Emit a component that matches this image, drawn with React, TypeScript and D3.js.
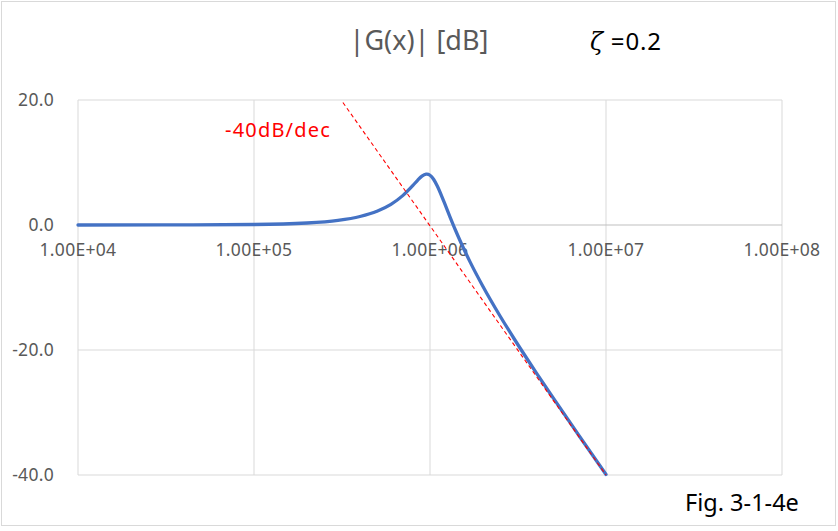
import React from "react";
import * as d3 from "d3";

const freqs = [1e4, 3e4, 1e5, 2e5, 3e5, 4e5, 5e5, 6e5, 7e5, 8e5, 8.5e5, 9e5, 9.5e5, 9.6e5, 1e6, 1.05e6, 1.1e6, 1.2e6, 1.3e6, 1.4e6, 1.5e6, 1.7e6, 2e6, 2.5e6, 3e6, 4e6, 5e6, 7e6, 1e7];
const gainDb = [0.0, 0.01, 0.08, 0.32, 0.74, 1.36, 2.2, 3.3, 4.7, 6.34, 7.15, 7.81, 8.13, 8.14, 7.96, 7.28, 6.24, 3.73, 1.27, -0.92, -2.84, -6.06, -9.84, -14.56, -18.16, -23.57, -27.63, -33.64, -39.92];
const asymFreqs = [3.2e5, 1e7];
const asymDb = [19.6, -40];
const xTicks = [1e4, 1e5, 1e6, 1e7, 1e8];
const xTickLabels = ["1.00E+04", "1.00E+05", "1.00E+06", "1.00E+07", "1.00E+08"];
const yTicks = [20, 0, -20, -40];
const yTickLabels = ["20.0", "0.0", "-20.0", "-40.0"];

const W = 838, H = 531;
const left = 78, right = 782, top = 100, bottom = 475;
const font = "'Noto Sans', 'Open Sans', sans-serif";

export default function App() {
  const x = d3.scaleLog().domain([1e4, 1e8]).range([left, right]);
  const y = d3.scaleLinear().domain([-40, 20]).range([bottom, top]);
  const line = d3.line<[number, number]>().x(d => x(d[0])).y(d => y(d[1])).curve(d3.curveMonotoneX);
  const curveData: [number, number][] = freqs.map((f, i) => [f, gainDb[i]]);
  const asymData: [number, number][] = asymFreqs.map((f, i) => [f, asymDb[i]]);
  return (
    <svg width={W} height={H} style={{ position: "absolute", left: 0, top: 0, background: "#fff" }}>
      <rect x={1.5} y={1.5} width={834} height={524} fill="#fff" stroke="#d9d9d9" />
      {xTicks.map(t => (
        <line key={"vx" + t} x1={x(t)} x2={x(t)} y1={top} y2={bottom} stroke="#d9d9d9" strokeWidth={1} />
      ))}
      {yTicks.map(t => (
        <line key={"hy" + t} x1={left} x2={right} y1={y(t)} y2={y(t)} stroke={t === 0 ? "#bfbfbf" : "#d9d9d9"} strokeWidth={1} />
      ))}
      {yTicks.map((t, i) => (
        <text key={"yl" + t} x={54} y={y(t)} dy="0.35em" textAnchor="end" fontFamily={font} fontSize={17.5} letterSpacing={0.3} fill="#595959">{yTickLabels[i]}</text>
      ))}
      {xTicks.map((t, i) => (
        <text key={"xl" + t} x={x(t)} y={y(0) + 25} dy="0.35em" textAnchor="middle" fontFamily={font} fontSize={17.5} letterSpacing={0.3} fill="#595959">{xTickLabels[i]}</text>
      ))}
      <path d={line(curveData) || ""} fill="none" stroke="#4472C4" strokeWidth={3.3} strokeLinejoin="round" strokeLinecap="round" />
      <path d={line.curve(d3.curveLinear)(asymData) || ""} fill="none" stroke="#ff0000" strokeWidth={1.1} strokeDasharray="4 3" />
      <text x={419} y={41} dy="0.35em" textAnchor="middle" fontFamily={font} fontSize={27} fill="#595959">|G(x)| [dB]</text>
      <text x={590} y={42} dy="0.35em" textAnchor="start" fontFamily={font} fontSize={24} letterSpacing={0.8} fill="#000"><tspan fontStyle="italic" fontFamily="'DejaVu Serif', serif">ζ</tspan> =0.2</text>
      <text x={225} y={130} dy="0.35em" textAnchor="start" fontFamily={font} fontSize={20} letterSpacing={1.2} fill="#ff0000">-40dB/dec</text>
      <text x={685} y={503} dy="0.35em" textAnchor="start" fontFamily={font} fontSize={23.5} fill="#000">Fig. 3-1-4e</text>
    </svg>
  );
}
